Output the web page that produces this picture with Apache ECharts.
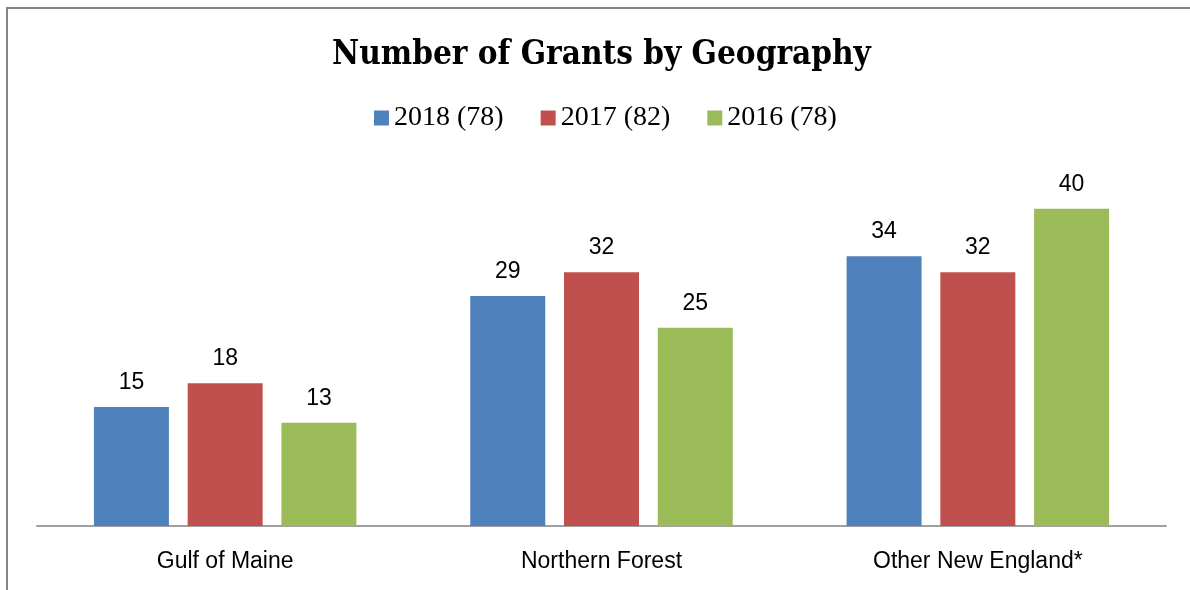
<!DOCTYPE html>
<html><head><meta charset="utf-8">
<script src="https://cdn.jsdelivr.net/npm/echarts@6/dist/echarts.min.js"></script>
<style>html,body{margin:0;padding:0;background:#fff;}#c{width:1190px;height:590px;}</style>
</head><body><div id="c"></div>
<script>
const categories = ["Gulf of Maine", "Northern Forest", "Other New England*"];
const seriesNames = ["2018 (78)", "2017 (82)", "2016 (78)"];
const values2018 = [15, 29, 34];
const values2017 = [18, 32, 32];
const values2016 = [13, 25, 40];
const colors = ["#4f81bd", "#c0504d", "#9bbb59"];

const chart = echarts.init(document.getElementById('c'), null, {renderer: 'canvas'});
const labelFont = {show: true, position: 'top', distance: 13, color: '#000', fontFamily: 'Liberation Sans', fontSize: 23};
const allVals = [values2018, values2017, values2016];
chart.setOption({
  animation: false,
  backgroundColor: '#fff',
  graphic: [{type: 'rect', shape: {x: 7, y: 8, width: 1250, height: 700}, style: {fill: 'none', stroke: '#868686', lineWidth: 2}}],
  title: {text: 'Number of Grants by Geography', left: 327, top: 34,
    textStyle: {fontFamily: 'DejaVu Serif Condensed', fontWeight: 'bold', fontSize: 33, color: '#000'}},
  legend: {top: 99, left: 369, itemWidth: 15, itemHeight: 15, itemGap: 37, icon: 'rect',
    textStyle: {fontFamily: 'Liberation Serif', fontSize: 28, color: '#000'}, data: seriesNames},
  grid: {left: 37, right: 24, top: 169, bottom: 64},
  xAxis: {type: 'category', data: categories,
    axisLine: {lineStyle: {color: '#a0a0a0', width: 2}}, axisTick: {show: false},
    axisLabel: {color: '#000', fontFamily: 'Liberation Sans', fontSize: 23, margin: 24}},
  yAxis: {type: 'value', min: 0, max: 45, show: false, splitLine: {show: false}},
  series: seriesNames.map((n, i) => ({
    name: n, type: 'bar', data: allVals[i], barWidth: 75, barGap: '25%',
    itemStyle: {color: colors[i]}, label: labelFont
  }))
});
</script></body></html>
